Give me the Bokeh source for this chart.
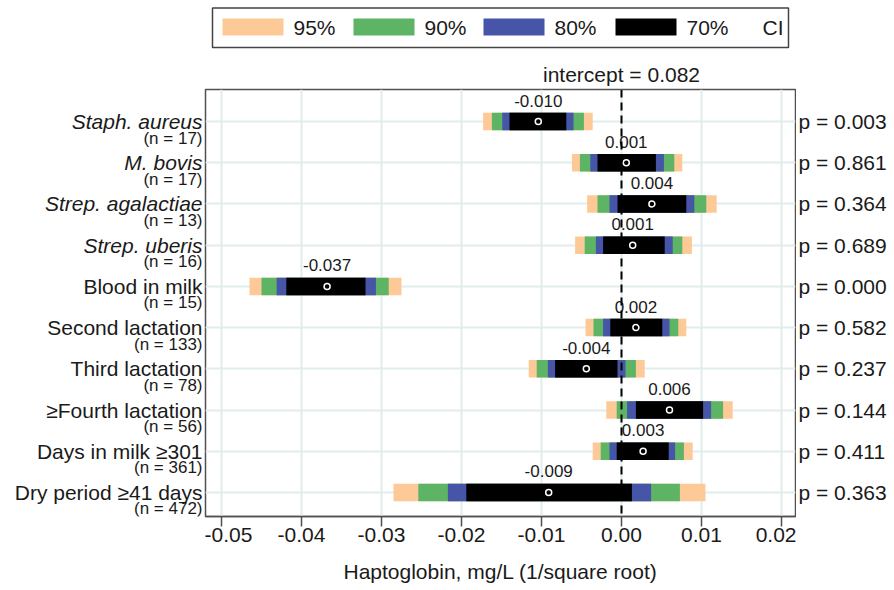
from bokeh.plotting import figure
from bokeh.models import Range1d, FixedTicker, Span, Grid, ColumnDataSource, PrintfTickFormatter
from bokeh.layouts import gridplot
from bokeh.embed import file_html
from bokeh.resources import INLINE
from bokeh.core.properties import value

# ---------------- data ----------------
categories = ["Staph. aureus", "M. bovis", "Strep. agalactiae", "Strep. uberis",
              "Blood in milk", "Second lactation", "Third lactation",
              "\u2265Fourth lactation", "Days in milk \u2265301", "Dry period \u226541 days"]
italic_names = [True, True, True, True, False, False, False, False, False, False]
n_obs = [17, 17, 13, 16, 15, 133, 78, 56, 361, 472]
estimate = [-0.0104, 0.0006, 0.0038, 0.0014, -0.0368, 0.0018, -0.0044, 0.0060, 0.0027, -0.0091]
lo95 = [-0.0173, -0.0062, -0.0043, -0.0058, -0.0465, -0.0045, -0.0116, -0.0019, -0.0036, -0.0285]
lo90 = [-0.0162, -0.0052, -0.0030, -0.0046, -0.0450, -0.0035, -0.0106, -0.0006, -0.0026, -0.0254]
lo80 = [-0.0149, -0.0039, -0.0015, -0.0032, -0.0431, -0.0023, -0.0092, 0.0007, -0.0015, -0.0217]
lo70 = [-0.0140, -0.0030, -0.0005, -0.0023, -0.0419, -0.0014, -0.0083, 0.0018, -0.0006, -0.0194]
hi70 = [-0.0069, 0.0043, 0.0081, 0.0054, -0.0320, 0.0051, -0.0005, 0.0102, 0.0059, 0.0013]
hi80 = [-0.0060, 0.0053, 0.0091, 0.0064, -0.0307, 0.0060, 0.0005, 0.0112, 0.0067, 0.0037]
hi90 = [-0.0047, 0.0066, 0.0106, 0.0076, -0.0291, 0.0071, 0.0018, 0.0127, 0.0078, 0.0073]
hi95 = [-0.0036, 0.0076, 0.0119, 0.0088, -0.0275, 0.0081, 0.0029, 0.0139, 0.0089, 0.0105]
p_values = ["0.003", "0.861", "0.364", "0.689", "0.000", "0.582", "0.237", "0.144", "0.411", "0.363"]
ci_levels = ["95%", "90%", "80%", "70%"]
x_ticks = [-0.05, -0.04, -0.03, -0.02, -0.01, 0.0, 0.01, 0.02]
intercept = 0.082
x_title = "Haptoglobin, mg/L (1/square root)"

# ---------------- styling / layout ----------------
FONT = "Liberation Sans"
TXT = "#1a1a1a"
ci_colors = ["#FDCA97", "#5DB465", "#4655A7", "#000000"]
LEFT_W, MAIN_W, RIGHT_W = 204, 592, 96
TOP_H, MAIN_H = 88, 502
B_TOP, B_BOT = 1, 74
FRAME_L = LEFT_W + 1            # page x of the plot frame's left edge
X_START, X_END = -0.052, 0.02175
frame_w = MAIN_W - 2
px_per_x = frame_w / (X_END - X_START)
frame_h = MAIN_H - B_TOP - B_BOT
row_px = 41.22                   # pixel spacing between rows
first_row_off = 32               # px from frame top to first row
Y_TOP = 1 - first_row_off / row_px
Y_BOTTOM = Y_TOP + frame_h / row_px


def page_x(px):
    """data x at a page pixel column"""
    return X_START + (px - FRAME_L) / px_per_x


rows = list(range(1, len(categories) + 1))
src = ColumnDataSource(dict(
    row=rows, est=estimate, lo95=lo95, lo90=lo90, lo80=lo80, lo70=lo70,
    hi70=hi70, hi80=hi80, hi90=hi90, hi95=hi95,
    label_y=[r - 21 / row_px for r in rows],
    est_label=[f"{v:.3f}" for v in estimate],
))
lab_src = ColumnDataSource(dict(
    row=rows, name=categories,
    style=["italic" if it else "normal" for it in italic_names],
    n_y=[r + 16.5 / row_px for r in rows],
    n_text=[f"(n = {n})" for n in n_obs],
    p_text=[f"p = {pv}" for pv in p_values],
))

x_range = Range1d(X_START, X_END)
y_range = Range1d(Y_BOTTOM, Y_TOP)


def bare(fig):
    fig.outline_line_color = None
    fig.xgrid.grid_line_color = None
    fig.ygrid.grid_line_color = None
    return fig


# ---------------- legend strip (above the plot frame) ----------------
leg = bare(figure(width=MAIN_W, height=TOP_H, x_range=x_range, y_range=Range1d(TOP_H, 0),
                  toolbar_location=None, output_backend="svg",
                  x_axis_location=None, y_axis_location=None,
                  min_border_left=1, min_border_right=1, min_border_top=0, min_border_bottom=0))
leg.quad(left=[page_x(212)], right=[page_x(788)], top=[7.5], bottom=[47], fill_color=None,
         line_color="#444444", line_width=1.5)
sw_left_px = [222, 353, 483, 615]
sw_w_px = 61
leg.quad(left=[page_x(s) for s in sw_left_px], right=[page_x(s + sw_w_px) for s in sw_left_px],
         top=[18] * 4, bottom=[35] * 4, fill_color=ci_colors, line_color=None)
leg.text(x=[page_x(s + sw_w_px + 10) for s in sw_left_px], y=[26.5] * 4, text=ci_levels,
         text_font=value(FONT), text_font_size="21px", text_baseline="middle",
         text_color=TXT)
leg.text(x=[page_x(762)], y=[26.5], text=["CI"], text_font=value(FONT), text_font_size="21px",
         text_baseline="middle", text_color=TXT)
leg.text(x=[0.0], y=[74], text=[f"intercept = {intercept:.3f}"], text_font=value(FONT),
         text_font_size="21px", text_baseline="middle", text_align="center", text_color=TXT)

# ---------------- main plot ----------------
p = figure(width=MAIN_W, height=MAIN_H, x_range=x_range, y_range=y_range,
           toolbar_location=None, output_backend="svg", y_axis_location=None,
           min_border_left=1, min_border_right=1, min_border_top=B_TOP, min_border_bottom=B_BOT)
p.outline_line_color = "#505050"
p.outline_line_width = 1.5

ticker = FixedTicker(ticks=x_ticks)
ax = p.xaxis[0]
ax.ticker = ticker
ax.formatter = PrintfTickFormatter(format="%.2f")
ax.axis_label = x_title
ax.axis_label_text_font = FONT
ax.axis_label_text_font_size = "21px"
ax.axis_label_text_font_style = "normal"
ax.axis_label_text_color = TXT
ax.axis_label_standoff = 15
ax.major_label_text_font = FONT
ax.major_label_text_font_size = "21px"
ax.major_label_text_color = TXT
ax.major_label_standoff = 1
ax.major_tick_out = 10
ax.major_tick_in = 0
ax.minor_tick_line_color = None
ax.major_tick_line_color = "#505050"
ax.major_tick_line_width = 1.5
ax.axis_line_color = "#505050"
ax.axis_line_width = 1.5

grid_col = "#e1eded"
p.xgrid.ticker = ticker
p.xgrid.grid_line_color = grid_col
p.xgrid.grid_line_width = 2
p.add_layout(Grid(dimension=1, ticker=FixedTicker(ticks=rows), grid_line_color=grid_col,
                  grid_line_width=2))

p.add_layout(Span(location=0, dimension="height", line_color="black", line_width=2,
                  line_dash="8 5"))

bar_h = 17.5 / row_px
for lo, hi, col in zip(["lo95", "lo90", "lo80", "lo70"], ["hi95", "hi90", "hi80", "hi70"],
                       ci_colors):
    p.hbar(y="row", left=lo, right=hi, height=bar_h, source=src, fill_color=col,
           line_color=None)

p.scatter(x="est", y="row", source=src, marker="circle", size=6, fill_color=None,
          line_color="white", line_width=1.5)
p.text(x="est", y="label_y", text="est_label", source=src, text_align="center",
       text_baseline="middle", text_font=value(FONT), text_font_size="17px",
       text_color=TXT)

# ---------------- row labels (left) ----------------
left = bare(figure(width=LEFT_W, height=MAIN_H, x_range=Range1d(0, LEFT_W), y_range=y_range,
                   toolbar_location=None, output_backend="svg",
                   x_axis_location=None, y_axis_location=None,
                   min_border_left=0, min_border_right=0,
                   min_border_top=B_TOP, min_border_bottom=B_BOT))
left.text(x=LEFT_W - 2, y="row", text="name", source=lab_src, text_align="right",
          text_baseline="middle", text_font=value(FONT), text_font_size="21px",
          text_font_style="style", text_color=TXT)
left.text(x=LEFT_W - 2, y="n_y", text="n_text", source=lab_src, text_align="right",
          text_baseline="middle", text_font=value(FONT), text_font_size="17px",
          text_color=TXT)

# ---------------- p-values (right) ----------------
right = bare(figure(width=RIGHT_W, height=MAIN_H, x_range=Range1d(0, RIGHT_W), y_range=y_range,
                    toolbar_location=None, output_backend="svg",
                    x_axis_location=None, y_axis_location=None,
                    min_border_left=0, min_border_right=0,
                    min_border_top=B_TOP, min_border_bottom=B_BOT))
right.text(x=2, y="row", text="p_text", source=lab_src, text_align="left",
           text_baseline="middle", text_font=value(FONT), text_font_size="21px",
           text_color=TXT)

layout = gridplot([[None, leg, None], [left, p, right]], toolbar_location=None)
open("out.html", "w").write(file_html(layout, INLINE))
